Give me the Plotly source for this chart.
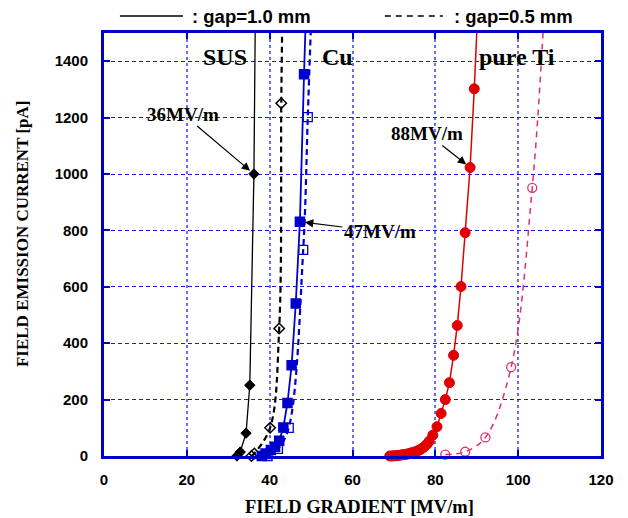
import plotly.graph_objects as go

# ---- data ----
sus10_x = [32.1, 32.9, 34.3, 35.2, 36.2]
sus10_y = [0, 14, 81, 251, 1000]
sus10_line_x = [32.1, 32.9, 34.3, 35.2, 36.2, 36.5]
sus10_line_y = [0, 14, 81, 251, 1000, 1500]

sus05_x = [35.6, 36.3, 40.1, 42.3, 42.8]
sus05_y = [0, 9, 100, 452, 1251]
sus05_line_x = [35.6, 36.3, 40.1, 42.3, 42.8, 43.0]
sus05_line_y = [0, 9, 100, 452, 1251, 1500]

cu10_x = [38.1, 39.0, 40.3, 41.3, 42.3, 43.3, 44.3, 45.3, 46.3, 47.3, 48.3]
cu10_y = [0, 9, 21, 33, 54, 101, 188, 322, 541, 831, 1354]
cu10_line_x = cu10_x + [48.6]
cu10_line_y = cu10_y + [1500]

cu05_x = [39.5, 42.0, 44.6, 48.1, 49.2]
cu05_y = [0, 25, 100, 731, 1202]
cu05_line_x = cu05_x + [49.9]
cu05_line_y = cu05_y + [1500]

ti10_x = [69, 69.5, 70, 70.5, 71, 71.5, 72, 72.5, 73, 73.5, 74, 74.5, 75, 75.5,
          76, 76.5, 77, 77.5, 78, 78.5, 79.4, 80.4, 81.4, 82.4, 83.4, 84.4,
          85.3, 86.2, 87.2, 88.4, 89.4]
ti10_y = [0, 0, 1, 1, 2, 3, 4, 5, 6, 8, 10, 12, 14, 17, 20, 24, 29, 35, 42, 52,
          74, 104, 151, 200, 260, 357, 463, 601, 792, 1023, 1302]
ti10_line_x = ti10_x + [90.0]
ti10_line_y = ti10_y + [1500]

ti05_x = [82.4, 87.2, 92.1, 98.3, 103.4]
ti05_y = [5, 15, 66, 315, 951]
ti05_line_x = ti05_x + [106.0]
ti05_line_y = ti05_y + [1500]

x_ticks = [0, 20, 40, 60, 80, 100, 120]
y_ticks = [0, 200, 400, 600, 800, 1000, 1200, 1400]

BLUE = "#0000cc"
RED = "#e00000"
PINK = "#e0306a"

fig = go.Figure()

def add(lx, ly, mx, my, color, dash, width, symbol, size, mlw=1.5, shape="linear"):
    fig.add_trace(go.Scatter(x=lx, y=ly, mode="lines", line=dict(color=color, dash=dash, width=width, shape=shape),
                             showlegend=False, hoverinfo="skip"))
    fig.add_trace(go.Scatter(x=mx, y=my, mode="markers",
                             marker=dict(symbol=symbol, size=size, color=color, line=dict(color=color, width=mlw)),
                             showlegend=False, cliponaxis=False))

add(sus10_line_x, sus10_line_y, sus10_x, sus10_y, "black", "solid", 1.3, "diamond", 8, 1)
add(sus05_line_x, sus05_line_y, sus05_x, sus05_y, "black", "6px,4px", 2.2, "diamond-open", 8, 1.5, "spline")
add(cu10_line_x, cu10_line_y, cu10_x, cu10_y, BLUE, "solid", 1.8, "square", 9)
add(cu05_line_x, cu05_line_y, cu05_x, cu05_y, BLUE, "6px,4px", 2.2, "square-open", 9, 1.3, "spline")
add(ti10_line_x, ti10_line_y, ti10_x, ti10_y, RED, "solid", 1.5, "circle", 10, 1)
add(ti05_line_x, ti05_line_y, ti05_x, ti05_y, PINK, "6px,5px", 1.5, "circle-open", 9, 1.3, "spline")

tickfont = dict(family="Liberation Sans, Arial", size=15, color="black", weight="bold")
titlefont_x = dict(family="Liberation Serif, Times New Roman", size=18.5, color="black")
titlefont_y = dict(family="Liberation Serif, Times New Roman", size=17, color="black")

fig.update_xaxes(range=[0, 120], tickvals=x_ticks, ticktext=[str(v) for v in x_ticks],
                 showline=True, linecolor=BLUE, linewidth=3, mirror="ticks",
                 ticks="inside", tickcolor=BLUE, ticklen=6, tickwidth=1.5,
                 showgrid=True, gridcolor="#6a6aff", griddash="dot", gridwidth=1.5,
                 zeroline=False, tickfont=tickfont, ticklabelstandoff=8, automargin=False)
fig.update_yaxes(range=[0, 1500], tickvals=y_ticks, ticktext=[str(v) for v in y_ticks],
                 showline=True, linecolor=BLUE, linewidth=3, mirror="ticks",
                 ticks="inside", tickcolor=BLUE, ticklen=6, tickwidth=1.5,
                 showgrid=True, gridcolor="#1515ee", griddash="4px,3px", gridwidth=1.2,
                 zeroline=False, tickfont=tickfont, ticklabelstandoff=10, automargin=False)

# axis titles
fig.add_annotation(xref="paper", yref="paper", x=0.515, y=-0.121, text="<b>FIELD GRADIENT [MV/m]</b>",
                   showarrow=False, font=titlefont_x, yanchor="middle")
fig.add_annotation(xref="paper", yref="paper", x=-0.165, y=0.527, text="<b>FIELD EMISSION CURRENT [pA]</b>",
                   showarrow=False, font=titlefont_y, textangle=-90, xanchor="center", yanchor="middle")

lblfont = dict(family="Liberation Serif, Times New Roman", size=24, color="black")
annfont = dict(family="Liberation Serif, Times New Roman", size=19, color="black")
for txt, x in [("SUS", 29.3), ("Cu", 56.4), ("pure Ti", 99.8)]:
    fig.add_annotation(x=x, y=1415, text=f"<b>{txt}</b>", showarrow=False, font=lblfont)

for txt, x, y, ax, ay in [("36MV/m", 36.2, 1000, -71, -60),
                           ("88MV/m", 88.4, 1023, -43, -34),
                           ("47MV/m", 47.3, 831, 80, 10)]:
    fig.add_annotation(x=x, y=y, text=f"<b>{txt}</b>", showarrow=True, ax=ax, ay=ay,
                       arrowhead=2, arrowsize=1.4, arrowwidth=1.2, arrowcolor="black",
                       standoff=5, font=annfont)

# legend drawn at top
legfont = dict(family="Liberation Sans, Arial", size=18.5, color="black")
fig.add_shape(type="line", xref="paper", yref="paper", x0=0.032, x1=0.159, y0=1.040, y1=1.040,
              line=dict(color="black", width=1.5))
fig.add_annotation(xref="paper", yref="paper", x=0.173, y=1.040, text="<b>: gap=1.0 mm</b>",
                   showarrow=False, xanchor="left", yanchor="middle", font=legfont)
fig.add_shape(type="line", xref="paper", yref="paper", x0=0.565, x1=0.682, y0=1.040, y1=1.040,
              line=dict(color="black", width=1.5, dash="6px,5px"))
fig.add_annotation(xref="paper", yref="paper", x=0.70, y=1.040, text="<b>: gap=0.5 mm</b>",
                   showarrow=False, xanchor="left", yanchor="middle", font=legfont)

fig.update_layout(width=628, height=518, margin=dict(l=104, r=27, t=33, b=62),
                  plot_bgcolor="white", paper_bgcolor="white", showlegend=False)

# remove the browser's default body margin so the figure fills the window exactly
fig.write_html("out.html", config={"displayModeBar": False},
               post_script="document.body.style.margin='0px';document.body.style.overflow='hidden';")
